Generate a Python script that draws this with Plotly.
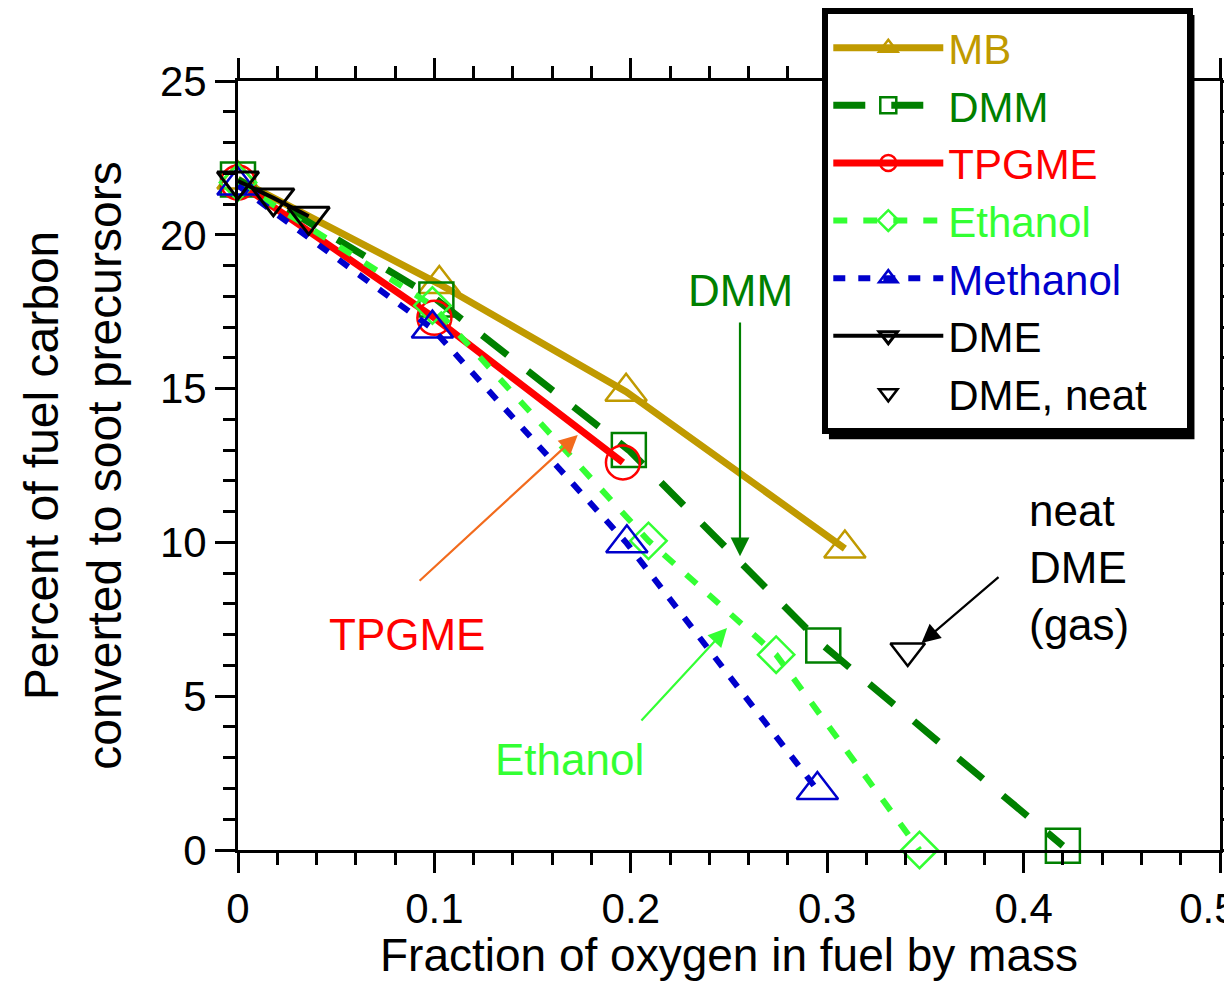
import plotly.graph_objects as go

# ---------------- data ----------------
mb_x = [0.0, 0.1025, 0.1976, 0.309]
mb_y = [21.8, 18.4, 14.9, 9.8]

dmm_x = [0.0, 0.101, 0.199, 0.298, 0.420]
dmm_y = [21.8, 17.9, 13.0, 6.65, 0.14]

tpgme_x = [0.0, 0.1, 0.196]
tpgme_y = [21.7, 17.3, 12.6]

ethanol_x = [0.0, 0.099, 0.209, 0.274, 0.347]
ethanol_y = [21.7, 17.7, 10.05, 6.35, 0.0]

methanol_x = [0.0, 0.099, 0.198, 0.295]
methanol_y = [21.6, 16.95, 9.97, 1.95]

dme_x = [0.0, 0.018, 0.036]
dme_y = [21.75, 21.2, 20.6]

dme_neat_x = [0.341]
dme_neat_y = [6.47]

x_tick_vals = [0, 0.1, 0.2, 0.3, 0.4, 0.5]
x_tick_text = ["0", "0.1", "0.2", "0.3", "0.4", "0.5&nbsp;&nbsp;"]
y_tick_vals = [0, 5, 10, 15, 20, 25]
y_tick_text = ["0", "5", "10", "15", "20", "25"]

FONT = "Liberation Sans, Arial, sans-serif"

GOLD = "#C09A00"
DKGREEN = "#008000"
RED = "#FF0000"
LTGREEN = "#33FF33"
BLUE = "#0000CC"
BLACK = "#000000"
ORANGE = "#F26B1D"


def lname(txt, color, pad=0):
    return f"<span style='color:{color}'>{txt}</span>" + "&nbsp;" * pad


fig = go.Figure()

fig.add_trace(go.Scatter(
    x=mb_x, y=mb_y, name=lname("MB", GOLD), mode="lines+markers",
    line=dict(color=GOLD, width=7),
    marker=dict(symbol="triangle-up-open", size=36, color=GOLD, line=dict(width=2.5, color=GOLD)),
    cliponaxis=False))

fig.add_trace(go.Scatter(
    x=dmm_x, y=dmm_y, name=lname("DMM", DKGREEN), mode="lines+markers",
    line=dict(color=DKGREEN, width=7, dash="32px,26px"),
    marker=dict(symbol="square-open", size=34, color=DKGREEN, line=dict(width=2.5, color=DKGREEN)),
    cliponaxis=False))

fig.add_trace(go.Scatter(
    x=tpgme_x, y=tpgme_y, name=lname("TPGME", RED), mode="lines+markers",
    line=dict(color=RED, width=7),
    marker=dict(symbol="circle-open", size=34, color=RED, line=dict(width=2.5, color=RED)),
    cliponaxis=False))

fig.add_trace(go.Scatter(
    x=ethanol_x, y=ethanol_y, name=lname("Ethanol", LTGREEN), mode="lines+markers",
    line=dict(color=LTGREEN, width=6, dash="14px,16px"),
    marker=dict(symbol="diamond-open", size=28, color=LTGREEN, line=dict(width=2.5, color=LTGREEN)),
    cliponaxis=False))

fig.add_trace(go.Scatter(
    x=methanol_x, y=methanol_y, name=lname("Methanol", BLUE), mode="lines+markers",
    line=dict(color=BLUE, width=6, dash="12px,13px"),
    marker=dict(symbol="triangle-up-open", size=36, color=BLUE, line=dict(width=2.5, color=BLUE)),
    cliponaxis=False))

fig.add_trace(go.Scatter(
    x=dme_x, y=dme_y, name=lname("DME", BLACK), mode="lines+markers",
    line=dict(color=BLACK, width=4),
    marker=dict(symbol="triangle-down-open", size=36, color=BLACK, line=dict(width=3, color=BLACK)),
    cliponaxis=False))

fig.add_trace(go.Scatter(
    x=dme_neat_x, y=dme_neat_y, name=lname("DME, neat", BLACK, pad=3), mode="markers",
    marker=dict(symbol="triangle-down-open", size=30, color=BLACK, line=dict(width=2.5, color=BLACK)),
    cliponaxis=False))

# ---------------- annotations ----------------
ann_font = 44
annotations = [
    dict(x=0.2556, y=18.2, text="DMM", font=dict(color=DKGREEN, size=ann_font, family=FONT)),
    dict(x=0.086, y=7.0, text="TPGME", font=dict(color=RED, size=ann_font, family=FONT)),
    dict(x=0.169, y=2.93, text="Ethanol", font=dict(color=LTGREEN, size=ann_font, family=FONT)),
    dict(x=0.4015, y=9.2, text="neat<br>DME<br>(gas)", xanchor="left", align="left",
         font=dict(color=BLACK, size=ann_font, family=FONT)),
]
for a in annotations:
    a.update(xref="x", yref="y", showarrow=False)

arrows = [
    # (tail_x, tail_y, tip_x, tip_y, color)
    (0.2556, 17.2, 0.2556, 9.55, DKGREEN),
    (0.0917, 8.71, 0.173, 13.49, ORANGE),
    (0.2047, 4.16, 0.249, 7.22, LTGREEN),
    (0.388, 8.91, 0.348, 6.73, BLACK),
]
for tx, ty, hx, hy, c in arrows:
    annotations.append(dict(
        x=hx, y=hy, ax=tx, ay=ty, xref="x", yref="y", axref="x", ayref="y",
        text="", showarrow=True, arrowhead=2, arrowsize=1.7, arrowwidth=2.2,
        arrowcolor=c, standoff=0, startstandoff=0))

axis_common = dict(
    showline=True, linewidth=3, linecolor="black", mirror="ticks",
    ticks="outside", ticklen=20, tickwidth=3, tickcolor="black",
    showgrid=False, zeroline=False, automargin=False, ticklabeloverflow="allow",
    tickfont=dict(family=FONT, size=42, color="black"),
)

# legend shadow (paper coordinates, offset down-right of the legend box)
shadow = dict(type="rect", xref="paper", yref="paper",
              x0=0.6018, x1=0.974, y0=0.534, y1=1.0858,
              fillcolor="black", line=dict(width=0), layer="above")

fig.update_layout(
    width=1224, height=973, autosize=False,
    margin=dict(l=230, r=12, t=73, b=131, autoexpand=False),
    paper_bgcolor="white", plot_bgcolor="white",
    font=dict(family=FONT, color="black"),
    xaxis=dict(
        range=[0, 0.5], tickvals=x_tick_vals, ticktext=x_tick_text,
        minor=dict(dtick=0.02, ticks="outside", ticklen=12, tickwidth=3, tickcolor="black", showgrid=False),
        title=dict(text="Fraction of oxygen in fuel by mass", font=dict(family=FONT, size=46), standoff=8),
        **axis_common),
    yaxis=dict(
        range=[0, 25], tickvals=y_tick_vals, ticktext=y_tick_text,
        minor=dict(dtick=1, ticks="outside", ticklen=12, tickwidth=3, tickcolor="black", showgrid=False),
        title=dict(text="Percent of fuel carbon<br>converted to soot precursors",
                   font=dict(family=FONT, size=48), standoff=24),
        **axis_common),
    legend=dict(
        x=0.595, y=1.095, xanchor="left", yanchor="top",
        bgcolor="white", bordercolor="black", borderwidth=6,
        font=dict(family=FONT, size=42), itemwidth=110, tracegroupgap=0),
    annotations=annotations,
    shapes=[shadow],
)

fig.write_html("out.html")
